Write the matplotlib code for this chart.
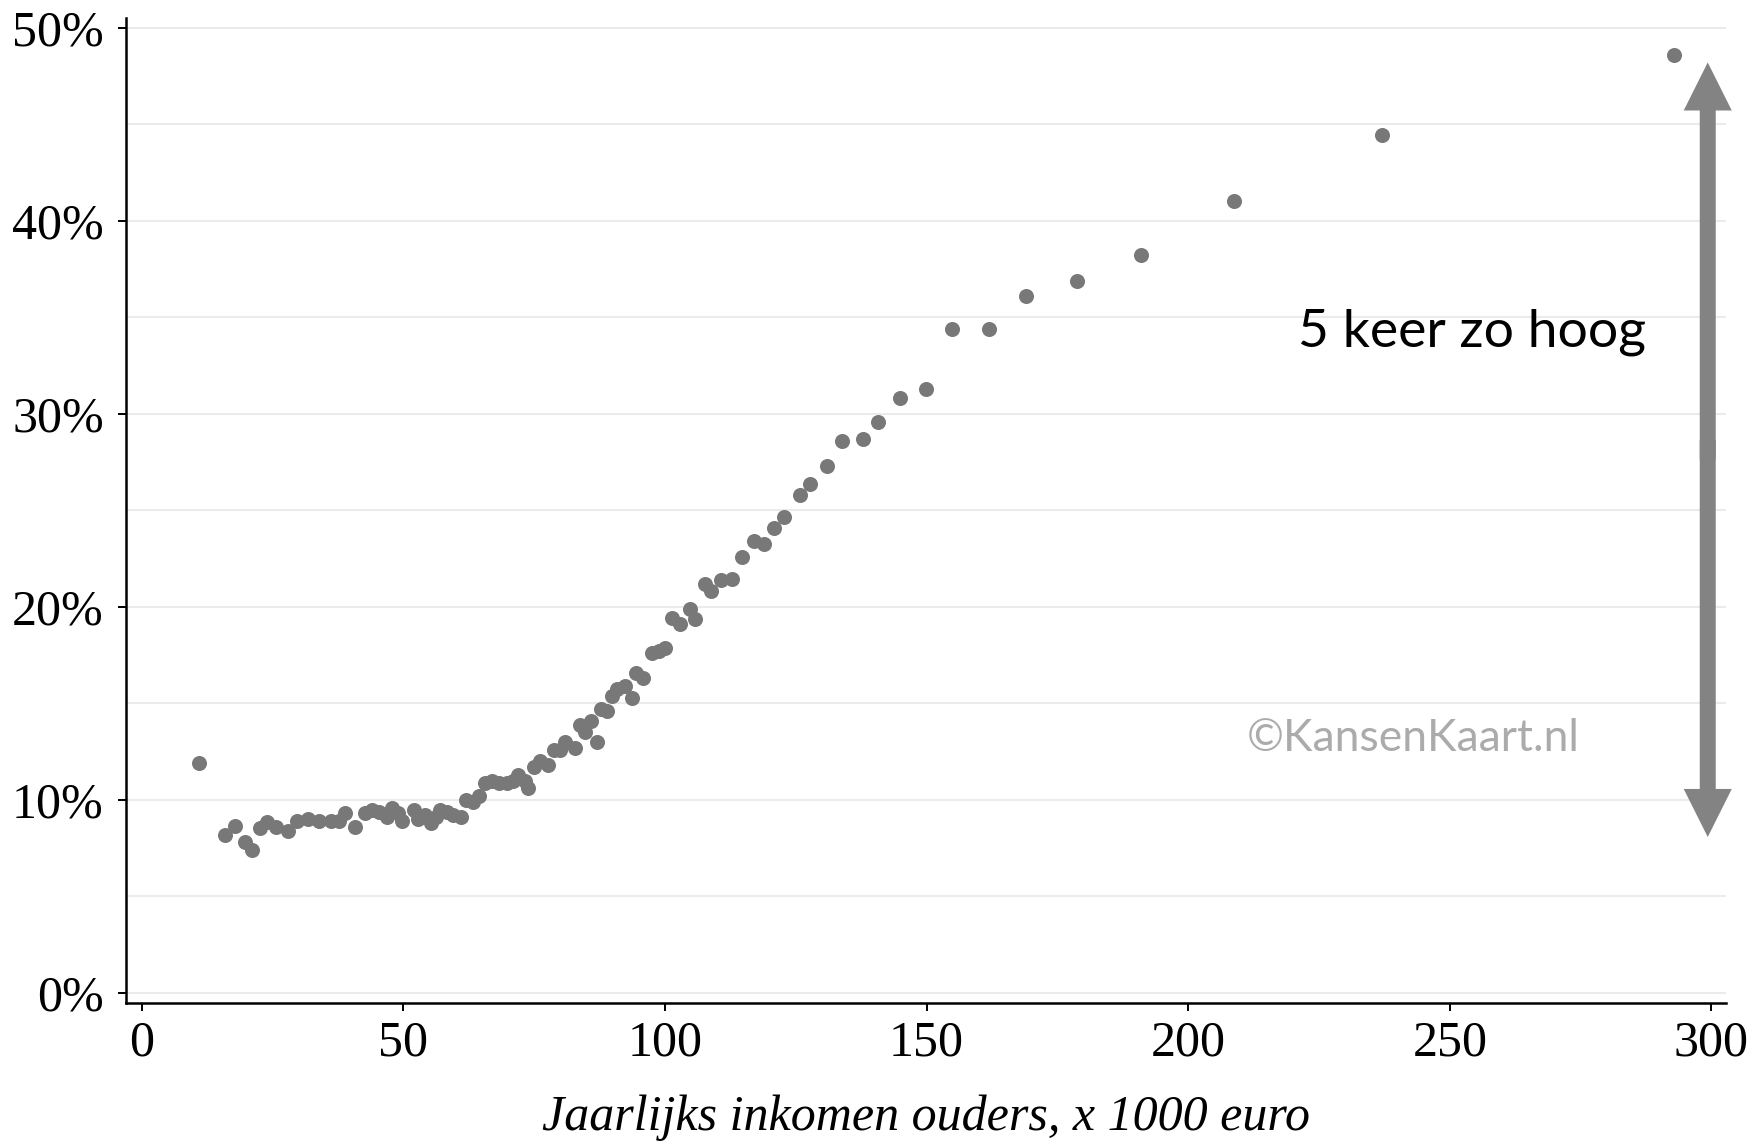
import numpy as np
import matplotlib
matplotlib.use("Agg")
import matplotlib.pyplot as plt
from matplotlib.patches import FancyArrowPatch

# parental income (x 1000 euro) vs share (%)
income = [10.9, 15.9, 17.8, 19.7, 21.0, 22.7, 24.0, 25.7, 27.9, 29.6,
          31.8, 33.9, 36.1, 37.8, 38.9, 40.8, 42.7, 44.0, 45.3, 46.8,
          47.9, 49.0, 49.8, 52.0, 52.8, 54.1, 55.2, 56.3, 57.1, 58.4,
          59.5, 61.0, 62.0, 63.3, 64.4, 65.7, 67.0, 68.3, 69.8, 70.9,
          71.9, 73.2, 73.9, 74.9, 76.2, 77.7, 78.8, 79.9, 80.9, 82.9,
          83.7, 84.8, 85.9, 87.0, 87.8, 88.9, 89.8, 90.9, 92.4, 93.7,
          94.5, 95.8, 97.5, 98.8, 100.1, 101.4, 102.8, 104.8, 105.8, 107.6,
          108.8, 110.7, 112.9, 114.8, 117.0, 118.9, 120.9, 122.8, 125.8, 127.8,
          131.0, 133.8, 137.8, 140.8, 144.9, 149.9, 154.8, 161.9, 169.0, 178.8,
          190.9, 208.7, 237.0, 292.9]
share = [11.9, 8.2, 8.65, 7.8, 7.4, 8.55, 8.85, 8.6, 8.4, 8.9,
         9.0, 8.9, 8.9, 8.9, 9.3, 8.6, 9.3, 9.5, 9.4, 9.1,
         9.6, 9.3, 8.9, 9.5, 9.0, 9.2, 8.8, 9.1, 9.5, 9.4,
         9.2, 9.1, 10.0, 9.9, 10.2, 10.9, 11.0, 10.9, 10.9, 11.0,
         11.3, 11.0, 10.6, 11.7, 12.0, 11.8, 12.6, 12.6, 13.0, 12.7,
         13.9, 13.5, 14.1, 13.0, 14.7, 14.6, 15.4, 15.75, 15.9, 15.3,
         16.6, 16.3, 17.6, 17.7, 17.85, 19.4, 19.1, 19.9, 19.35, 21.2,
         20.8, 21.4, 21.45, 22.6, 23.4, 23.25, 24.1, 24.65, 25.8, 26.35,
         27.3, 28.6, 28.7, 29.6, 30.8, 31.3, 34.4, 34.4, 36.1, 36.9,
         38.2, 41.0, 44.45, 48.6]

x_ticks = [0, 50, 100, 150, 200, 250, 300]
y_ticks = [0, 10, 20, 30, 40, 50]
y_ticklabels = ["0%", "10%", "20%", "30%", "40%", "50%"]
y_minor = [5, 15, 25, 35, 45]

fig = plt.figure(figsize=(17.62, 11.41), dpi=100)
ax = fig.add_axes([0.0715, 0.1209, 0.9081, 0.8633])

ax.scatter(income, share, s=117, color="#787878", linewidths=0, zorder=3)

ax.set_xlim(-3, 302.8)
ax.set_ylim(-0.52, 50.5)
ax.set_xticks(x_ticks)
ax.set_yticks(y_ticks)
ax.set_yticklabels(y_ticklabels)
ax.set_yticks(y_minor, minor=True)
ax.grid(axis="y", which="both", color="#ebebeb", lw=1.5, zorder=0)
ax.set_axisbelow(True)

for side in ["top", "right"]:
    ax.spines[side].set_visible(False)
for side in ["left", "bottom"]:
    ax.spines[side].set_linewidth(1.8)

ax.tick_params(axis="both", which="major", direction="out", length=6, width=1.4,
               labelsize=36)
ax.tick_params(axis="y", which="minor", length=0)
ax.tick_params(axis="y", pad=10)
ax.tick_params(axis="x", pad=6)
for lab in ax.get_xticklabels() + ax.get_yticklabels():
    lab.set_fontfamily("Liberation Serif")

# x label placed by its baseline, centred under the axes
fig.text(0.5255, 1 - 1130 / 1141, "Jaarlijks inkomen ouders, x 1000 euro",
         fontsize=36, family="Liberation Serif", style="italic",
         ha="center", va="baseline")

# double headed arrow, built from two halves
arrow_x = 299.3
arrow_top, arrow_bot = 48.2, 8.08
mid = (arrow_top + arrow_bot) / 2
style = "simple,head_length=34.6,head_width=34.6,tail_width=11.5"
for a, b in [(mid - 0.5, arrow_top), (mid + 0.5, arrow_bot)]:
    ax.add_patch(FancyArrowPatch((arrow_x, a), (arrow_x, b), arrowstyle=style,
                                 mutation_scale=1, color="#838383", lw=0,
                                 shrinkA=0, shrinkB=0, zorder=4, clip_on=False))

ax.text(221.0, 33.47, "5 keer zo hoog", fontsize=38.5, family="Lato",
        color="black", ha="left", va="baseline")
ax.text(211.2, 12.54, "\u00a9KansenKaart.nl", fontsize=32, family="Lato",
        color="#ababab", ha="left", va="baseline")

fig.savefig("out.png", dpi=100)
